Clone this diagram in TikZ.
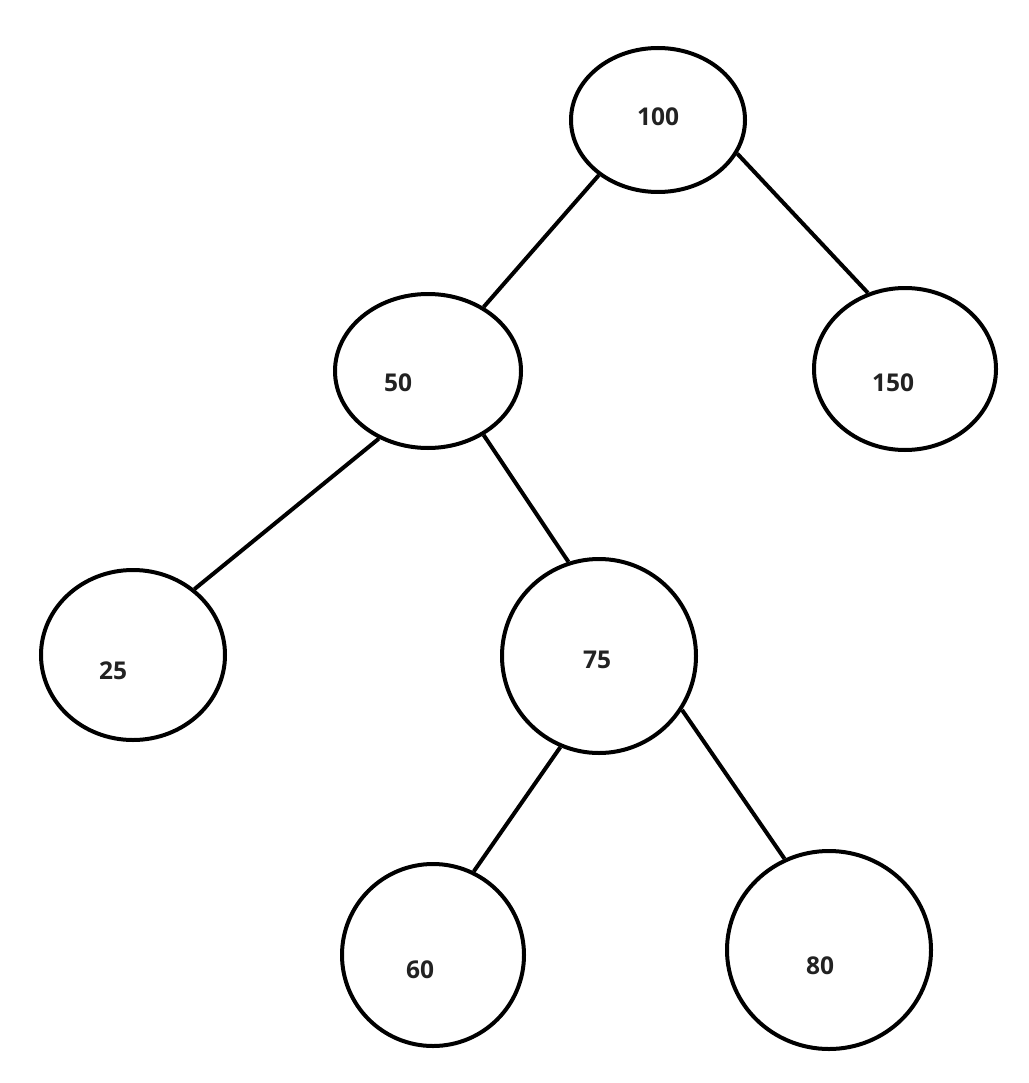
\documentclass[tikz,border=0pt]{standalone}
\usepackage{fontspec}
\setmainfont{Open Sans}
\usetikzlibrary{shapes.geometric}
\definecolor{txt}{HTML}{222222}
\begin{document}
\begin{tikzpicture}[x=1pt,y=-1pt,
  bnode/.style={draw=black,line width=4pt,ellipse,inner sep=0pt},
  lbl/.style={font=\fontsize{24.5}{27}\selectfont\bfseries,text=txt,inner sep=0pt},
  edge/.style={line width=4pt,draw=black}]
\useasboundingbox[fill=white] (0,0) rectangle (1028,1083);
\node[bnode,minimum width=174pt,minimum height=144pt] (n100) at (658,120) {};
\node[bnode,minimum width=186pt,minimum height=154pt] (n50) at (428,371) {};
\node[bnode,minimum width=182pt,minimum height=162pt] (n150) at (905,369) {};
\node[bnode,minimum width=184pt,minimum height=170pt] (n25) at (133,655) {};
\node[bnode,minimum width=194pt,minimum height=194pt] (n75) at (599,656) {};
\node[bnode,minimum width=182pt,minimum height=182pt] (n60) at (433,955) {};
\node[bnode,minimum width=204pt,minimum height=198pt] (n80) at (829,950) {};
\node[lbl] (t100) at (658,117) {100};
\node[lbl] (t50) at (398,383) {50};
\node[lbl] (t150) at (893,383) {150};
\node[lbl] (t25) at (113,671) {25};
\node[lbl] (t75) at (597,660) {75};
\node[lbl] (t60) at (420,970) {60};
\node[lbl] (t80) at (820,966) {80};
\draw[edge] (n100.223) -- (n50.49);
\draw[edge] (n100.337) -- (n150.116);
\draw[edge] (n50.234) -- (n25.47);
\draw[edge] (n50.311) -- (n75.108);
\draw[edge] (n75.247) -- (n60.64);
\draw[edge] (n75.327) -- (n80.116);
\end{tikzpicture}
\end{document}
